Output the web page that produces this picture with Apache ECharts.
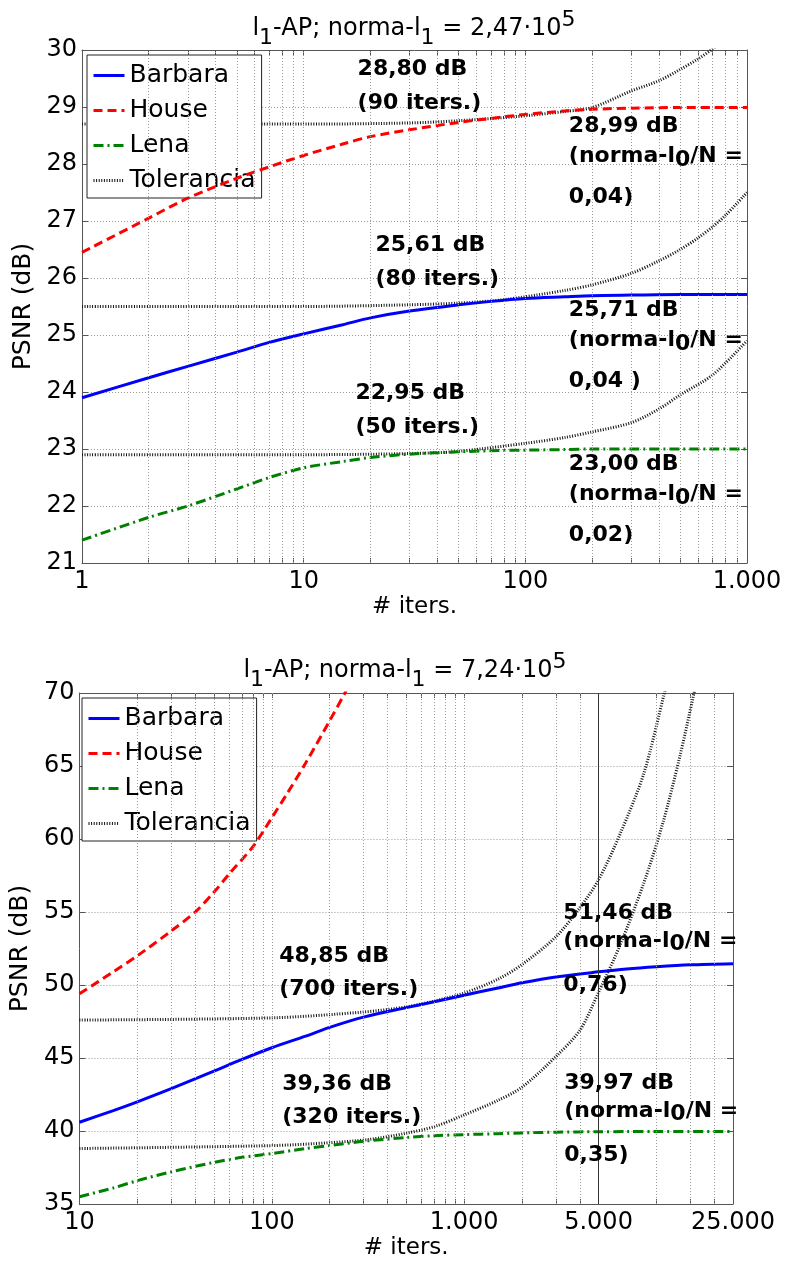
<!DOCTYPE html>
<html>
<head>
<meta charset="utf-8">
<script src="https://cdn.jsdelivr.net/npm/echarts@6/dist/echarts.min.js"></script>
<style>html,body{margin:0;padding:0;background:#fff}#c{width:785px;height:1266px}</style>
</head>
<body>
<div id="c"></div>
<script>
// ---------- DATA ----------
// Top chart (norma-l1 = 2,47·10^5)
const topIters      = [1, 2, 3, 5, 7, 10, 15, 20, 30, 50, 70, 100, 150, 200, 300, 500, 700, 1000];
const topBarbara    = [23.9, 24.25, 24.45, 24.7, 24.87, 25.02, 25.18, 25.3, 25.42, 25.53, 25.59, 25.64, 25.67, 25.69, 25.7, 25.71, 25.71, 25.71];
const topHouse      = [26.45, 27.05, 27.4, 27.75, 27.95, 28.15, 28.35, 28.48, 28.6, 28.73, 28.8, 28.87, 28.93, 28.96, 28.98, 28.99, 28.99, 28.99];
const topLena       = [21.4, 21.8, 22.0, 22.3, 22.5, 22.67, 22.78, 22.85, 22.91, 22.95, 22.97, 22.98, 22.99, 23.0, 23.0, 23.0, 23.0, 23.0];
const topTolHouseX  = [1, 10, 30, 50, 90, 150, 200, 300, 400, 500, 600, 700, 800];
const topTolHouseY  = [28.7, 28.7, 28.72, 28.76, 28.83, 28.92, 28.99, 29.28, 29.46, 29.66, 29.84, 30.02, 30.2];
const topTolBarbX   = [1, 10, 30, 50, 80, 150, 200, 300, 400, 500, 600, 700, 800, 1000];
const topTolBarbY   = [25.5, 25.5, 25.53, 25.56, 25.62, 25.78, 25.88, 26.08, 26.3, 26.5, 26.7, 26.9, 27.1, 27.5];
const topTolLenaX   = [1, 10, 30, 50, 100, 150, 200, 300, 400, 500, 700, 1000];
const topTolLenaY   = [22.9, 22.9, 22.92, 22.96, 23.1, 23.2, 23.3, 23.46, 23.7, 23.95, 24.3, 24.9];
const topTickLabels = [1, 10, 100, 1000];
const topMinor      = [2, 3, 4, 5, 6, 7, 8, 9, 10, 20, 30, 40, 50, 60, 70, 80, 90, 100, 200, 300, 400, 500, 600, 700, 800, 900];

// Bottom chart (norma-l1 = 7,24·10^5)
const botIters      = [10, 15, 20, 30, 50, 70, 100, 150, 200, 300, 500, 700, 1000, 1500, 2000, 3000, 5000, 7000, 10000, 15000, 25000];
const botBarbara    = [40.6, 41.4, 42.0, 42.9, 44.1, 44.9, 45.7, 46.5, 47.1, 47.8, 48.45, 48.85, 49.3, 49.8, 50.15, 50.55, 50.9, 51.1, 51.25, 51.38, 51.46];
const botLena       = [35.5, 36.1, 36.6, 37.2, 37.85, 38.2, 38.45, 38.8, 39.0, 39.3, 39.55, 39.68, 39.75, 39.82, 39.87, 39.92, 39.95, 39.96, 39.97, 39.97, 39.97];
const botHouseX     = [10, 15, 20, 30, 40, 50, 60, 80, 100, 120, 150, 200, 240, 260];
const botHouseY     = [49.4, 50.9, 52.0, 53.7, 55.0, 56.35, 57.6, 59.5, 61.45, 63.1, 65.2, 68.1, 70.0, 70.9];
const botTolBarbX   = [10, 100, 300, 500, 700, 1000, 1500, 2000, 3000, 4000, 5000, 6500, 8600, 11000, 11500];
const botTolBarbY   = [47.6, 47.75, 48.15, 48.5, 48.9, 49.45, 50.4, 51.4, 53.3, 55.3, 57.2, 60.4, 64.5, 70.0, 71.0];
const botTolLenaX   = [10, 100, 200, 320, 500, 700, 1000, 1500, 2000, 3000, 4000, 5000, 6500, 8600, 10800, 13200, 15500, 16000];
const botTolLenaY   = [38.8, 39.0, 39.2, 39.42, 39.85, 40.3, 41.1, 42.1, 43.0, 45.1, 46.9, 49.5, 52.8, 57.0, 61.1, 65.6, 69.7, 70.6];
const botTickLabels = [10, 100, 1000, 5000, 25000];
const botMinor      = [20, 30, 40, 50, 60, 70, 80, 90, 100, 200, 300, 400, 500, 600, 700, 800, 900, 1000, 2000, 3000, 4000, 10000, 15000, 20000];
const botSolid      = [5000];

// ---------- CHART ----------
const FONT = 'DejaVu Sans';
const pairs = (xs, ys) => xs.map((x, i) => [x, ys[i]]);
const fmt = v => String(Math.round(v)).replace(/\B(?=(\d{3})+(?!\d))/g, '.');

const STY = {
  Barbara: {color: '#0000ff', width: 3, type: 'solid'},
  House: {color: '#ff0000', width: 3, type: [9, 5]},
  Lena: {color: '#008000', width: 3, type: [10, 4, 2, 4]},
  Tolerancia: {color: '#111111', width: 3, type: [1, 1.6]}
};
function curve(name, data, gi) {
  const s = STY[name];
  return {
    type: 'line', name, data, xAxisIndex: gi * 2, yAxisIndex: gi * 2,
    symbol: 'none', showSymbol: false, smooth: 0.3, silent: true,
    lineStyle: {color: s.color, width: s.width, type: s.type},
    itemStyle: {color: s.color}, z: name === 'Tolerancia' ? 3 : 4, animation: false
  };
}

const annRich = {
  t:  {fontFamily: FONT, fontSize: 22, fontWeight: 'bold', color: '#000', lineHeight: 34},
  t2: {fontFamily: FONT, fontSize: 22, fontWeight: 'bold', color: '#000', lineHeight: 33},
  n:  {fontFamily: FONT, fontSize: 22, fontWeight: 'bold', color: '#000', lineHeight: 30},
  e:  {fontFamily: FONT, fontSize: 22, fontWeight: 'bold', color: '#000', lineHeight: 52},
  n2: {fontFamily: FONT, fontSize: 22, fontWeight: 'bold', color: '#000', lineHeight: 28},
  e2: {fontFamily: FONT, fontSize: 22, fontWeight: 'bold', color: '#000', lineHeight: 60},
  sb: {fontFamily: FONT, fontSize: 22, fontWeight: 'bold', color: '#000', lineHeight: 14, padding: [16, 0, 0, 0], verticalAlign: 'bottom'}
};
function note(x, y, text) {
  return {coord: [x, y], symbol: 'circle', symbolSize: 1, itemStyle: {color: 'rgba(0,0,0,0)'},
    label: {show: true, position: [0, 0], align: 'left', verticalAlign: 'top', formatter: text, rich: annRich}};
}

function helper(gi, minor, solid, notes) {
  const lines = minor.map(v => ({xAxis: v}));
  solid.forEach(v => lines.push({xAxis: v, lineStyle: {type: 'solid', color: '#333', width: 1}}));
  return {
    type: 'line', name: 'grid' + gi, data: [], xAxisIndex: gi * 2, yAxisIndex: gi * 2, z: 1, silent: true, animation: false,
    markLine: {silent: true, symbol: ['none', 'none'], animation: false, label: {show: false},
      lineStyle: {type: [1, 2], color: '#999', width: 1}, data: lines},
    markPoint: {silent: true, animation: false, z: 10, data: notes}
  };
}

const titleRich = {
  a: {fontFamily: FONT, fontSize: 24, fontWeight: 'normal', color: '#000', lineHeight: 40},
  s: {fontFamily: FONT, fontSize: 22, fontWeight: 'normal', color: '#000', lineHeight: 12, padding: [28, 0, 0, 0], verticalAlign: 'bottom'},
  p: {fontFamily: FONT, fontSize: 22, fontWeight: 'normal', color: '#000', lineHeight: 10, padding: [0, 0, 30, 0], verticalAlign: 'top'}
};

function xAxes(gi, min, max, labels, minor, pos) {
  const tickVals = labels.concat(minor);
  return {
    type: 'log', logBase: 10, gridIndex: gi, min, max, position: pos,
    axisLine: {show: true, onZero: false, lineStyle: {color: '#555', width: 1}},
    axisTick: {show: true, inside: true, length: 5, customValues: tickVals, lineStyle: {color: '#555'}},
    axisLabel: {show: pos === 'bottom', customValues: labels, formatter: v => fmt(v),
      fontFamily: FONT, fontSize: 24, color: '#000', margin: 7, hideOverlap: false},
    splitLine: {show: false}, minorTick: {show: false}, minorSplitLine: {show: false},
    name: pos === 'bottom' ? '# iters.' : '', nameLocation: 'middle', nameGap: gi === 0 ? 33 : 33,
    nameTextStyle: {fontFamily: FONT, fontSize: 23, color: '#000'}
  };
}
function yAxes(gi, min, max, interval, pos) {
  return {
    type: 'value', gridIndex: gi, min, max, interval, position: pos,
    axisLine: {show: true, onZero: false, lineStyle: {color: '#555', width: 1}},
    axisTick: {show: true, inside: true, length: 6, lineStyle: {color: '#555'}},
    axisLabel: {show: pos === 'left', fontFamily: FONT, fontSize: 24, color: '#000', margin: 5},
    splitLine: {show: pos === 'left', lineStyle: {type: [1, 2], color: '#999', width: 1}},
    name: pos === 'left' ? 'PSNR (dB)' : '', nameLocation: 'middle', nameGap: 44, nameRotate: 90,
    nameTextStyle: {fontFamily: FONT, fontSize: 25, color: '#000'}
  };
}

const legendBase = {
  data: ['Barbara', 'House', 'Lena', 'Tolerancia'], orient: 'vertical', selectedMode: false,
  itemWidth: 31, itemHeight: 14, itemGap: 10, padding: [8, 6, 5, 5],
  backgroundColor: '#fff', borderColor: '#222', borderWidth: 1, borderRadius: 0,
  itemStyle: {opacity: 0},
  lineStyle: {width: 3},
  textStyle: {fontFamily: FONT, fontSize: 25, color: '#000', lineHeight: 25}
};

const option = {
  animation: false,
  backgroundColor: '#fff',
  title: [
    {text: '{a|l}{s|1}{a|-AP; norma-l}{s|1}{a| = 2,47·10}{p|5}', left: 414, top: 9, textAlign: 'center', padding: 0,
     textStyle: {fontWeight: 'normal', rich: titleRich}},
    {text: '{a|l}{s|1}{a|-AP; norma-l}{s|1}{a| = 7,24·10}{p|5}', left: 405, top: 651, textAlign: 'center', padding: 0,
     textStyle: {fontWeight: 'normal', rich: titleRich}}
  ],
  legend: [
    Object.assign({}, legendBase, {left: 87, top: 55}),
    Object.assign({}, legendBase, {left: 82, top: 698})
  ],
  grid: [
    {left: 82, top: 50, width: 665, height: 513, containLabel: false},
    {left: 77, top: 693, width: 656, height: 511, containLabel: false}
  ],
  xAxis: [
    xAxes(0, 1, 1000, topTickLabels, topMinor, 'bottom'),
    xAxes(0, 1, 1000, topTickLabels, topMinor, 'top'),
    xAxes(1, 10, 25000, botTickLabels, botMinor, 'bottom'),
    xAxes(1, 10, 25000, botTickLabels, botMinor, 'top')
  ],
  yAxis: [
    yAxes(0, 21, 30, 1, 'left'),
    yAxes(0, 21, 30, 1, 'right'),
    yAxes(1, 35, 70, 5, 'left'),
    yAxes(1, 35, 70, 5, 'right')
  ],
  series: [
    helper(0, topMinor, [], [
      note(17.6, 29.95, '{t|28,80 dB}\n{t|(90 iters.)}'),
      note(158, 28.91, '{n|28,99 dB}\n{n|(norma-l}{sb|0}{n|/N =}\n{e|0,04)}'),
      note(21.2, 26.86, '{t|25,61 dB}\n{t|(80 iters.)}'),
      note(158, 25.68, '{n|25,71 dB}\n{n|(norma-l}{sb|0}{n|/N =}\n{e|0,04 )}'),
      note(17.2, 24.26, '{t|22,95 dB}\n{t|(50 iters.)}'),
      note(158, 22.98, '{n|23,00 dB}\n{n|(norma-l}{sb|0}{n|/N =}\n{e|0,02)}')
    ]),
    curve('Tolerancia', pairs(topTolHouseX, topTolHouseY), 0),
    curve('Tolerancia', pairs(topTolBarbX, topTolBarbY), 0),
    curve('Tolerancia', pairs(topTolLenaX, topTolLenaY), 0),
    curve('Barbara', pairs(topIters, topBarbara), 0),
    curve('House', pairs(topIters, topHouse), 0),
    curve('Lena', pairs(topIters, topLena), 0),

    helper(1, botMinor, botSolid, [
      note(239, 70.14, '{t2|Reconstrucción perfecta}\n{t2|(650 iters.,}\n{t2|norma-l}{sb|0}{t2|/N = 4)}'),
      note(110, 53.05, '{t2|48,85 dB}\n{t2|(700 iters.)}'),
      note(3300, 55.82, '{n2|51,46 dB}\n{n2|(norma-l}{sb|0}{n2|/N =}\n{e2|0,76)}'),
      note(114, 44.28, '{t2|39,36 dB}\n{t2|(320 iters.)}'),
      note(3335, 44.18, '{n2|39,97 dB}\n{n2|(norma-l}{sb|0}{n2|/N =}\n{e2|0,35)}')
    ]),
    curve('Tolerancia', pairs(botTolBarbX, botTolBarbY), 1),
    curve('Tolerancia', pairs(botTolLenaX, botTolLenaY), 1),
    curve('Barbara', pairs(botIters, botBarbara), 1),
    curve('House', pairs(botHouseX, botHouseY), 1),
    curve('Lena', pairs(botIters, botLena), 1)
  ]
};

const chart = echarts.init(document.getElementById('c'), null, {renderer: 'canvas'});
chart.setOption(option);
</script>
</body>
</html>
